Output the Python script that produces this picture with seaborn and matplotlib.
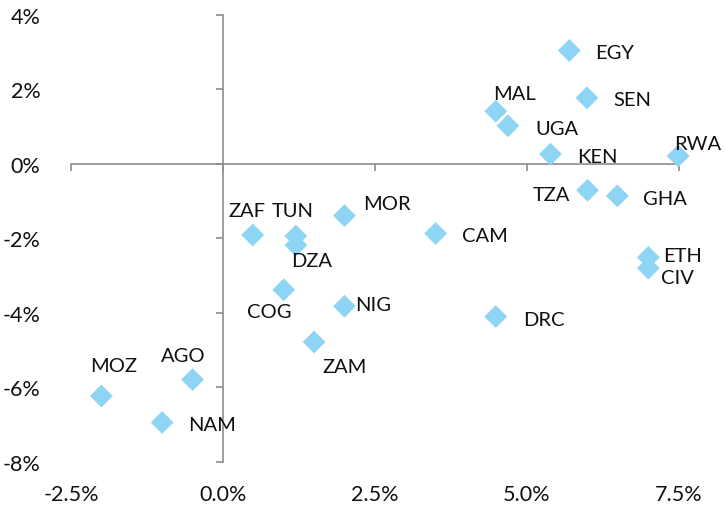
import matplotlib
matplotlib.use("Agg")
import matplotlib.pyplot as plt
import seaborn as sns
import pandas as pd
from matplotlib.ticker import FuncFormatter

# Country codes with x and y values (percent)
countries = ["EGY", "SEN", "MAL", "UGA", "KEN", "RWA", "TZA", "GHA", "ETH", "CIV",
             "CAM", "DRC", "MOR", "ZAF", "TUN", "DZA", "COG", "NIG", "ZAM", "AGO",
             "MOZ", "NAM"]
x_vals = [5.70, 5.99, 4.49, 4.69, 5.39, 7.49, 6.00, 6.49, 7.00, 7.00,
          3.50, 4.49, 2.00, 0.49, 1.20, 1.20, 1.00, 2.00, 1.50, -0.50,
          -2.00, -1.00]
y_vals = [3.04, 1.77, 1.41, 1.02, 0.26, 0.21, -0.71, -0.86, -2.51, -2.80,
          -1.87, -4.10, -1.39, -1.91, -1.94, -2.18, -3.38, -3.82, -4.78, -5.79,
          -6.23, -6.94]

x_ticks = [-2.5, 0.0, 2.5, 5.0, 7.5]
y_ticks = [-8, -6, -4, -2, 0, 2, 4]

# Label placement: offset in pixels (dx, dy up) and horizontal alignment
label_pos = {
    "EGY": (26, -1, "left"), "SEN": (26, 0, "left"), "MAL": (19, 19, "center"),
    "UGA": (27, -1, "left"), "KEN": (27, -1, "left"), "RWA": (20, 14, "center"),
    "TZA": (-17, -3, "right"), "GHA": (26, -1, "left"), "ETH": (15, 3, "left"),
    "CIV": (13, -8, "left"), "CAM": (26, 0, "left"), "DRC": (27, -1, "left"),
    "MOR": (19, 14, "left"), "ZAF": (-6, 26, "center"), "TUN": (-3, 27, "center"),
    "DZA": (16, -14, "center"), "COG": (-14, -20, "center"), "NIG": (11, 3, "left"),
    "ZAM": (31, -23, "center"), "AGO": (-9, 26, "center"), "MOZ": (12, 32, "center"),
    "NAM": (26, -1, "left"),
}

df = pd.DataFrame({"country": countries, "x": x_vals, "y": y_vals})

sns.set_theme(style="white")
plt.rcParams["font.family"] = ["Lato", "DejaVu Sans"]

DPI = 100
fig = plt.figure(figsize=(7.25, 5.06), dpi=DPI)
ax = fig.add_axes([71 / 725, 1 - 463 / 506, (678.7 - 71) / 725, (463 - 15.7) / 506])

sns.scatterplot(data=df, x="x", y="y", marker="D", s=135, color="#8ED4F5",
                edgecolor="none", ax=ax, clip_on=False, zorder=3)

px2pt = 72 / DPI
for name, xv, yv in zip(countries, x_vals, y_vals):
    dx, dy, ha = label_pos[name]
    ax.annotate(name, (xv, yv), xytext=(dx * px2pt, dy * px2pt),
                textcoords="offset points", ha=ha, va="center_baseline",
                fontsize=14.5, color="#111111", zorder=4)

ax.set_xlim(-2.5, 7.5)
ax.set_ylim(-8, 4)
ax.set_xlabel("")
ax.set_ylabel("")

axis_color = "#8c8c8c"
for side in ["top", "right"]:
    ax.spines[side].set_visible(False)
for side in ["left", "bottom"]:
    ax.spines[side].set_position(("data", 0))
    ax.spines[side].set_color(axis_color)
    ax.spines[side].set_linewidth(1.2)

ax.set_xticks(x_ticks)
ax.set_yticks(y_ticks)
ax.tick_params(axis="x", direction="out", length=5, width=1.2, color=axis_color,
               labelbottom=False, bottom=True)
ax.tick_params(axis="y", direction="out", length=5, width=1.2, color=axis_color,
               labelleft=False, left=True)

# Tick labels sit at the outer edges of the plot area
sec_x = ax.secondary_xaxis("bottom")
sec_x.set_xticks(x_ticks)
sec_x.xaxis.set_major_formatter(FuncFormatter(lambda v, p: f"{v:.1f}%"))
sec_x.spines["bottom"].set_visible(False)
sec_x.tick_params(length=0, pad=16, labelsize=15.5, labelcolor="#111111")

sec_y = ax.secondary_yaxis("left")
sec_y.set_yticks(y_ticks)
sec_y.yaxis.set_major_formatter(FuncFormatter(lambda v, p: f"{v:.0f}%"))
sec_y.spines["left"].set_visible(False)
sec_y.tick_params(length=0, pad=22, labelsize=15.5, labelcolor="#111111")

fig.savefig("out.png", dpi=DPI)
